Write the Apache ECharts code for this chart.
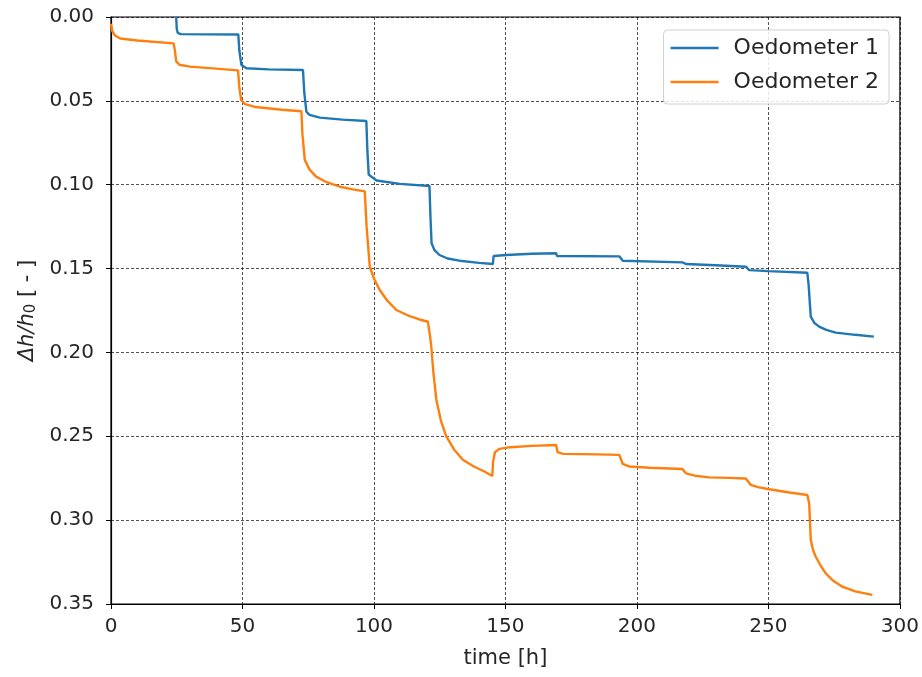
<!DOCTYPE html>
<html><head><meta charset="utf-8">
<script src="https://cdn.jsdelivr.net/npm/echarts@6/dist/echarts.min.js"></script>
<style>html,body{margin:0;padding:0;background:#fff}#c{width:922px;height:677px}</style>
</head><body><div id="c"></div>
<script>
const seriesNames = ['Oedometer 1', 'Oedometer 2'];
const xTicks = [0, 50, 100, 150, 200, 250, 300];
const yTicks = [0.00, 0.05, 0.10, 0.15, 0.20, 0.25, 0.30, 0.35];

const time1 = [24.8, 25.0, 25.4, 26.5, 48.4, 48.8, 49.6, 51.5, 60, 73, 73.5, 74.3, 75.5, 79.4, 88, 97.1, 97.5, 98, 101, 109.8, 121.1, 121.5, 121.9, 123, 124.9, 128, 132.5, 140, 145.2, 145.5, 150.3, 160, 169.3, 169.6, 193.3, 194.6, 217.3, 218.6, 230, 241.4, 242.7, 250, 264.8, 265.3, 266.1, 267.5, 269.3, 272, 275.6, 283, 290.1];
const dh1 = [0.0, 0.007, 0.0095, 0.0102, 0.0104, 0.02, 0.0286, 0.0306, 0.0312, 0.0316, 0.045, 0.0565, 0.0584, 0.0600, 0.0612, 0.0620, 0.08, 0.094, 0.0975, 0.0995, 0.1008, 0.12, 0.1349, 0.139, 0.1419, 0.1440, 0.1453, 0.1466, 0.1473, 0.1425, 0.1419, 0.1412, 0.1409, 0.1425, 0.1427, 0.1453, 0.1463, 0.1473, 0.1480, 0.1489, 0.1509, 0.1515, 0.1525, 0.16, 0.1787, 0.1825, 0.1846, 0.1866, 0.1882, 0.1895, 0.1906];

const time2 = [0, 0.5, 1.5, 3.5, 10, 23.8, 24.3, 24.8, 26, 30, 40, 48.3, 48.8, 49.5, 51, 55, 65, 72.4, 72.8, 73.7, 75.5, 78, 82, 87, 92, 96.5, 97.2, 98.4, 100, 102.2, 105, 108.5, 113, 117, 120.5, 121.3, 121.8, 122.6, 123.7, 125.5, 127.5, 130.5, 133.8, 138, 142, 145, 145.3, 146, 147.7, 152, 160, 169.3, 169.8, 172, 185, 193.3, 194.6, 197, 205, 217.3, 218.6, 222, 227.5, 235, 241.4, 243.3, 246, 250.3, 258, 264.8, 265.5, 266.1, 267, 268, 270, 271.8, 274.5, 278.1, 283, 289.5];
const dh2 = [0.004, 0.0085, 0.011, 0.0128, 0.014, 0.0157, 0.02, 0.0265, 0.0285, 0.0296, 0.0308, 0.0318, 0.042, 0.0495, 0.052, 0.0537, 0.0553, 0.0562, 0.07, 0.0853, 0.091, 0.0952, 0.0985, 0.1012, 0.1028, 0.104, 0.125, 0.1489, 0.156, 0.1628, 0.169, 0.1747, 0.178, 0.1802, 0.1817, 0.19, 0.1966, 0.212, 0.228, 0.241, 0.250, 0.258, 0.264, 0.268, 0.271, 0.2737, 0.265, 0.2595, 0.2575, 0.2565, 0.2557, 0.2552, 0.2595, 0.2605, 0.2608, 0.2611, 0.2665, 0.268, 0.2688, 0.2695, 0.2721, 0.2735, 0.2745, 0.2748, 0.2752, 0.279, 0.2803, 0.2816, 0.2835, 0.285, 0.29, 0.3118, 0.318, 0.3218, 0.3275, 0.3317, 0.336, 0.3397, 0.3425, 0.3446];

const zip = (a, b) => a.map((v, i) => [v, b[i]]);
const FONT = 'DejaVu Sans';
const TXT = '#262626';
const chart = echarts.init(document.getElementById('c'), null, {renderer: 'canvas'});
const gridLine = {show: true, lineStyle: {color: '#000', width: 0.8, type: [3, 2], opacity: 0.85}};
chart.setOption({
  animation: false,
  backgroundColor: '#fff',
  grid: {left: 111, right: 21, top: 17, bottom: 73, show: true, borderColor: '#000', borderWidth: 1.2, backgroundColor: 'transparent'},
  legend: {
    orient: 'vertical', right: 33, top: 30,
    data: seriesNames.map(n => ({name: n, icon: 'rect'})),
    itemWidth: 48, itemHeight: 2.7, itemGap: 12,
    padding: [7, 10, 11, 7],
    backgroundColor: 'rgba(255,255,255,0.85)', borderColor: '#d0d0d0', borderWidth: 1, borderRadius: 4,
    textStyle: {fontFamily: FONT, fontSize: 22, lineHeight: 22, color: TXT, padding: [0, 0, 0, 10]}
  },
  xAxis: {
    type: 'value', min: 0, max: 300, interval: 50,
    name: 'time [h]', nameLocation: 'middle', nameGap: 44,
    nameTextStyle: {fontFamily: FONT, fontSize: 21, color: TXT},
    axisLine: {show: true, onZero: false, lineStyle: {color: '#000', width: 1.2}},
    axisTick: {show: true, length: 5, lineStyle: {color: '#000'}},
    axisLabel: {fontFamily: FONT, fontSize: 20, color: TXT, margin: 13, formatter: v => xTicks.includes(v) ? String(v) : ''},
    splitLine: gridLine
  },
  yAxis: {
    type: 'value', inverse: true, min: 0, max: 0.35, interval: 0.05,
    name: '{i|Δh/h}{s|0}{n| [ - ]}', nameLocation: 'middle', nameGap: 68, nameRotate: 90,
    nameTextStyle: {
      fontFamily: FONT, fontSize: 21, color: TXT,
      rich: {
        i: {fontFamily: FONT, fontSize: 21, fontStyle: 'italic', color: TXT},
        s: {fontFamily: FONT, fontSize: 15, color: TXT, verticalAlign: 'bottom', padding: [8, 0, 0, 0]},
        n: {fontFamily: FONT, fontSize: 21, color: TXT}
      }
    },
    axisLine: {show: true, onZero: false, lineStyle: {color: '#000', width: 1.2}},
    axisTick: {show: true, length: 5, lineStyle: {color: '#000'}},
    axisLabel: {fontFamily: FONT, fontSize: 20, color: TXT, margin: 17,
      formatter: v => { const t = yTicks.find(k => Math.abs(k - v) < 1e-9); return t === undefined ? '' : t.toFixed(2); }},
    splitLine: gridLine
  },
  series: [
    {name: seriesNames[0], type: 'line', data: zip(time1, dh1), showSymbol: false, symbol: 'none', clip: true,
     color: '#1f77b4', lineStyle: {width: 2.4, color: '#1f77b4'}},
    {name: seriesNames[1], type: 'line', data: zip(time2, dh2), showSymbol: false, symbol: 'none', clip: true,
     color: '#ff7f0e', lineStyle: {width: 2.4, color: '#ff7f0e'}}
  ]
});
</script></body></html>
